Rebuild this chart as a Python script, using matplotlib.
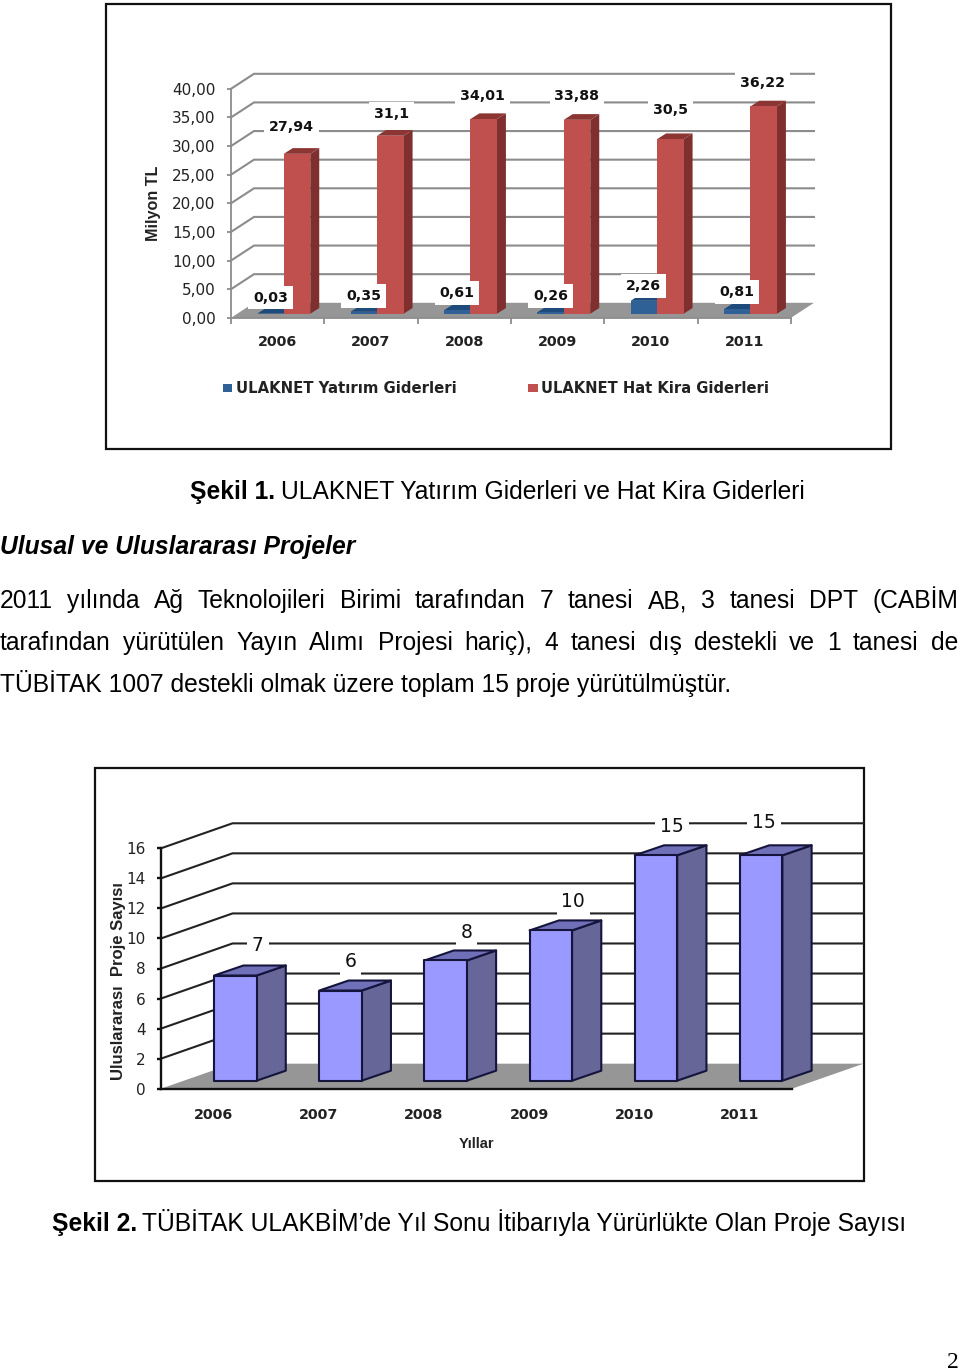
import matplotlib
matplotlib.use('Agg')
import matplotlib.pyplot as plt
from matplotlib.patches import Polygon, Rectangle

# chart 1
years = ['2006', '2007', '2008', '2009', '2010', '2011']
yatirim = [0.03, 0.35, 0.61, 0.26, 2.26, 0.81]
hat_kira = [27.94, 31.1, 34.01, 33.88, 30.5, 36.22]
money_ticks = [0, 5, 10, 15, 20, 25, 30, 35, 40]

# chart 2
proje = [7, 6, 8, 10, 15, 15]
proje_ticks = [0, 2, 4, 6, 8, 10, 12, 14, 16]

W, H = 960, 1371
SERIF = 'Liberation Serif'
ARIAL = 'Liberation Sans'
CHART = 'DejaVu Sans'


def px_axes(fig, left, right, top, bottom):
    return fig.add_axes([left / W, 1 - bottom / H, (right - left) / W, (bottom - top) / H])


def draw_box(ax, left, width, base, top, depth, colors, edge=None, lw=0, z=3):
    dx, dy = depth
    right = left + width
    style = dict(closed=True, clip_on=False, zorder=z, joinstyle='round')
    if edge:
        style.update(edgecolor=edge, linewidth=lw)
    else:
        style.update(linewidth=0)
    ax.add_patch(Polygon([(right, base), (right + dx, base + dy), (right + dx, top + dy), (right, top)],
                         facecolor=colors[1], **style))
    ax.add_patch(Polygon([(left, top), (left + dx, top + dy), (right + dx, top + dy), (right, top)],
                         facecolor=colors[2], **style))
    ax.add_patch(Polygon([(left, base), (right, base), (right, top), (left, top)],
                         facecolor=colors[0], **style))


def draw_walls(ax, ticks, depth, grid_color, grid_lw, floor_color='#969696'):
    dx, dy = depth
    n = len(years)
    for v in ticks[1:]:
        ax.plot([0, dx, n + dx], [v, v + dy, v + dy], color=grid_color, lw=grid_lw,
                clip_on=False, zorder=1, solid_joinstyle='miter')
    ax.add_patch(Polygon([(0, 0), (n, 0), (n + dx, dy), (dx, dy)], closed=True, facecolor=floor_color,
                         linewidth=0, clip_on=False, zorder=2))


def bar_label(ax, x, y, text, off, size, weight='normal'):
    ax.annotate(text, xy=(x, y), xytext=off, textcoords='offset pixels', ha='center', va='center',
                fontsize=size, fontweight=weight, family=CHART, color='#111111', zorder=6,
                annotation_clip=False,
                bbox=dict(facecolor='white', edgecolor='none', pad=3.5))


def setup_axes(ax, ticks, tick_labels, color, lw):
    ax.set_xlim(0, len(years))
    ax.set_ylim(ticks[0], ticks[-1])
    ax.patch.set_alpha(0)
    for s in ['top', 'right']:
        ax.spines[s].set_visible(False)
    for s in ['left', 'bottom']:
        ax.spines[s].set_color(color)
        ax.spines[s].set_linewidth(lw)
        ax.spines[s].set_zorder(4)
    ax.set_yticks(ticks)
    ax.set_yticklabels(tick_labels, family=CHART, fontsize=11, color='#222222')
    ax.tick_params(axis='y', length=3, width=lw, color=color, pad=8)


def justified(page, words, y, x0, x1, **kw):
    items = [page.text(0, y, w, va='baseline', **kw) for w in words]
    r = page.figure.canvas.get_renderer()
    widths = [t.get_window_extent(r).width for t in items]
    gap = (x1 - x0 - sum(widths)) / (len(words) - 1)
    x = x0
    for t, w in zip(items, widths):
        t.set_x(x)
        x += w + gap


fig = plt.figure(figsize=(W / 100, H / 100), dpi=100)
page = fig.add_axes([0, 0, 1, 1])
page.set_xlim(0, W)
page.set_ylim(H, 0)
page.axis('off')

page.add_patch(Rectangle((105.5, 4), 785, 445, fill=False, edgecolor='#111111', lw=1.6))
page.add_patch(Rectangle((95, 768), 769, 413, fill=False, edgecolor='#111111', lw=1.6))

# page text
body = dict(family=ARIAL, fontsize=17.72, color='black')
page.text(190, 499, 'Şekil 1.', va='baseline', fontweight='bold', **body)
page.text(281, 499, 'ULAKNET Yatırım Giderleri ve Hat Kira Giderleri', va='baseline', **body)
page.text(0, 554, 'Ulusal ve Uluslararası Projeler', va='baseline', fontweight='bold', fontstyle='italic', **body)
justified(page, '2011 yılında Ağ Teknolojileri Birimi tarafından 7 tanesi AB, 3 tanesi DPT (CABİM'.split(),
          608, 0, 958, **body)
justified(page, 'tarafından yürütülen Yayın Alımı Projesi hariç), 4 tanesi dış destekli ve 1 tanesi de'.split(),
          650, 0, 958, **body)
page.text(0, 692, 'TÜBİTAK 1007 destekli olmak üzere toplam 15 proje yürütülmüştür.', va='baseline', **body)
page.text(52, 1231, 'Şekil 2.', va='baseline', fontweight='bold', **body)
page.text(142, 1231, 'TÜBİTAK ULAKBİM’de Yıl Sonu İtibarıyla Yürürlükte Olan Proje Sayısı', va='baseline', **body)
page.text(947, 1368, '2', va='baseline', family=SERIF, fontsize=17, color='black')

# Sekil 1
ax1 = px_axes(fig, 231, 791, 88.8, 317.8)
setup_axes(ax1, money_ticks, [f'{v:.2f}'.replace('.', ',') for v in money_ticks], '#8c8c8c', 1.3)
wall1 = (0.2465, 2.62)
bar1 = (0.0965, 1.0)
draw_walls(ax1, money_ticks, wall1, '#8c8c8c', 1.5)
ax1.set_xticks(range(len(years) + 1))
ax1.set_xticklabels([])
ax1.tick_params(axis='x', length=4, width=1.3, color='#8c8c8c')
for i, year in enumerate(years):
    ax1.text(i + 0.5, -4.3, year, ha='center', va='center', family=CHART, fontweight='bold', fontsize=10.3, color='#222222')
ax1.set_ylabel('Milyon TL', family=ARIAL, fontweight='bold', fontsize=11.6, color='#222222')
ax1.yaxis.set_label_coords(-0.125, 0.5)

w1 = 0.284
red_off = [(-5.5, 27), (1, 22), (-1, 23), (0, 24), (0, 29), (-1, 23)]
blue_off = [(0, 16), (0, 16), (0, 17), (0, 16), (0, 15), (0, 17)]
for i in range(len(years)):
    lb = i + 0.5 + 0.065 - w1
    lr = i + 0.5 + 0.065
    draw_box(ax1, lb, w1, 0.7, 0.7 + yatirim[i], bar1, ('#2f6096', '#1f4a7c', '#1f4a7c'), z=3)
    draw_box(ax1, lr, w1, 0.7, 0.7 + hat_kira[i], bar1, ('#c0504d', '#7f302e', '#8c3634'), z=3.5)
    bar_label(ax1, lb + w1 / 2, 0.7 + yatirim[i], str(yatirim[i]).replace('.', ','), blue_off[i], 10.2, 'bold')
    bar_label(ax1, lr + w1 / 2, 0.7 + hat_kira[i], str(hat_kira[i]).replace('.', ','), red_off[i], 10.2, 'bold')

page.add_patch(Rectangle((223, 384), 9, 8, color='#2f6096', lw=0))
page.text(236, 388.5, 'ULAKNET Yatırım Giderleri', va='center', family=CHART, fontweight='bold', fontsize=10.7, color='#222222')
page.add_patch(Rectangle((528, 384), 10, 8, color='#c0504d', lw=0))
page.text(541, 388.5, 'ULAKNET Hat Kira Giderleri', va='center', family=CHART, fontweight='bold', fontsize=10.6, color='#222222')

# Sekil 2
ax2 = px_axes(fig, 161, 792, 848.3, 1088.7)
setup_axes(ax2, proje_ticks, [str(v) for v in proje_ticks], '#111111', 1.7)
wall2 = (0.68, 1.665)
bar2 = (0.278, 0.666)
draw_walls(ax2, proje_ticks, wall2, '#222222', 1.5)
ax2.set_xticks([])
for i, year in enumerate(years):
    ax2.text(i + 0.5, -1.72, year, ha='center', va='center', family=CHART, fontweight='bold', fontsize=10.3, color='#222222')
ax2.text(3, -3.65, 'Yıllar', ha='center', va='center', family=ARIAL, fontweight='bold', fontsize=10.5, color='#222222')
ax2.set_ylabel('Uluslararası  Proje Sayısı', family=ARIAL, fontweight='bold', fontsize=12, color='#222222')
ax2.yaxis.set_label_coords(-0.055, 0.448)

w2 = 0.403
lab_off = [(22.5, 30), (10, 29), (21, 28), (22.5, 29), (16, 29), (3, 33)]
for i, v in enumerate(proje):
    left = i + 0.5 + 0.207 - w2 / 2
    draw_box(ax2, left, w2, 0.533, 0.533 + v, bar2, ('#9999ff', '#666699', '#7070b8'), edge='#14143c', lw=1.5, z=3)
    bar_label(ax2, left + w2 / 2, 0.533 + v, str(v), lab_off[i], 13.5)

fig.savefig('out.png', dpi=100)
